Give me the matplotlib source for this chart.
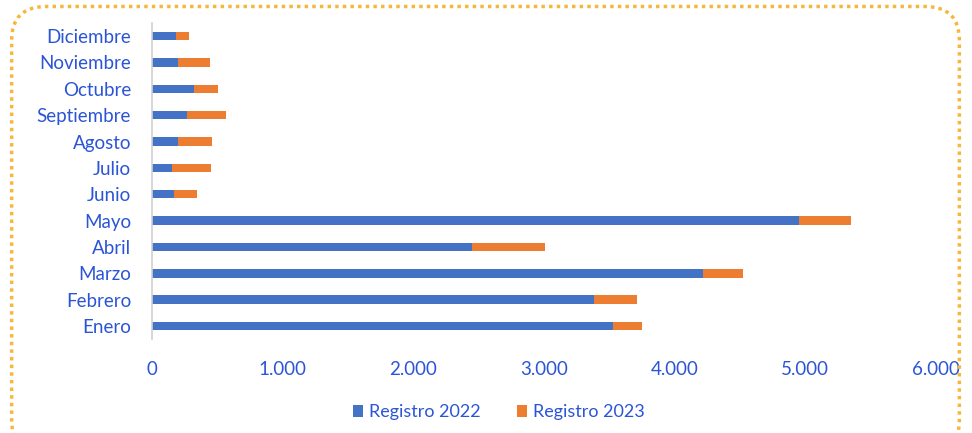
import matplotlib
matplotlib.use("Agg")
import matplotlib.pyplot as plt
from matplotlib.patches import FancyBboxPatch

months = ["Enero", "Febrero", "Marzo", "Abril", "Mayo", "Junio", "Julio",
          "Agosto", "Septiembre", "Octubre", "Noviembre", "Diciembre"]
reg_2022 = [3525, 3380, 4218, 2452, 4953, 168, 150, 197, 265, 324, 197, 185]
reg_2023 = [222, 330, 301, 557, 396, 174, 304, 260, 301, 183, 247, 100]
xticks = [0, 1000, 2000, 3000, 4000, 5000, 6000]
xtick_labels = ["0", "1.000", "2.000", "3.000", "4.000", "5.000", "6.000"]

BLUE = "#4472C4"
ORANGE = "#ED7D31"
TEXT = "#2B55D6"

plt.rcParams['font.family'] = ['Lato', 'DejaVu Sans']

fig = plt.figure(figsize=(9.72, 4.33), dpi=100)
ax = fig.add_axes([0.1564, 0.2166, 0.8066, 0.7304])

y = list(range(len(months)))
ax.barh(y, reg_2022, height=0.32, color=BLUE, label="Registro 2022")
ax.barh(y, reg_2023, left=reg_2022, height=0.32, color=ORANGE, label="Registro 2023")

ax.set_xlim(0, 6000)
ax.set_ylim(-0.5, len(months) - 0.5)
ax.set_yticks(y)
ax.set_yticklabels(months, fontsize=13.5, color=TEXT)
ax.set_xticks(xticks)
ax.set_xticklabels(xtick_labels, fontsize=13.5, color=TEXT)
ax.tick_params(axis='both', length=0)
ax.tick_params(axis='x', pad=16)
ax.tick_params(axis='y', pad=15)
for s in ["top", "right", "bottom"]:
    ax.spines[s].set_visible(False)
ax.spines["left"].set_color("#D0D0D0")
ax.spines["left"].set_linewidth(1.2)

leg = fig.legend(loc="center", bbox_to_anchor=(0.513, 0.048), ncol=2, frameon=False,
                 fontsize=13, handlelength=0.6, handleheight=0.6, handletextpad=0.3,
                 columnspacing=2.0)
for t in leg.get_texts():
    t.set_color(TEXT)

border = FancyBboxPatch((0.012, -0.05), 0.975, 1.035, transform=fig.transFigure,
                        boxstyle="round,pad=0,rounding_size=0.035",
                        fill=False, edgecolor="#F6B83C", linewidth=2.5,
                        linestyle=(0, (1, 1.2)), clip_on=False,
                        mutation_aspect=972 / 433)
fig.patches.append(border)

fig.savefig("out.png", dpi=100)
